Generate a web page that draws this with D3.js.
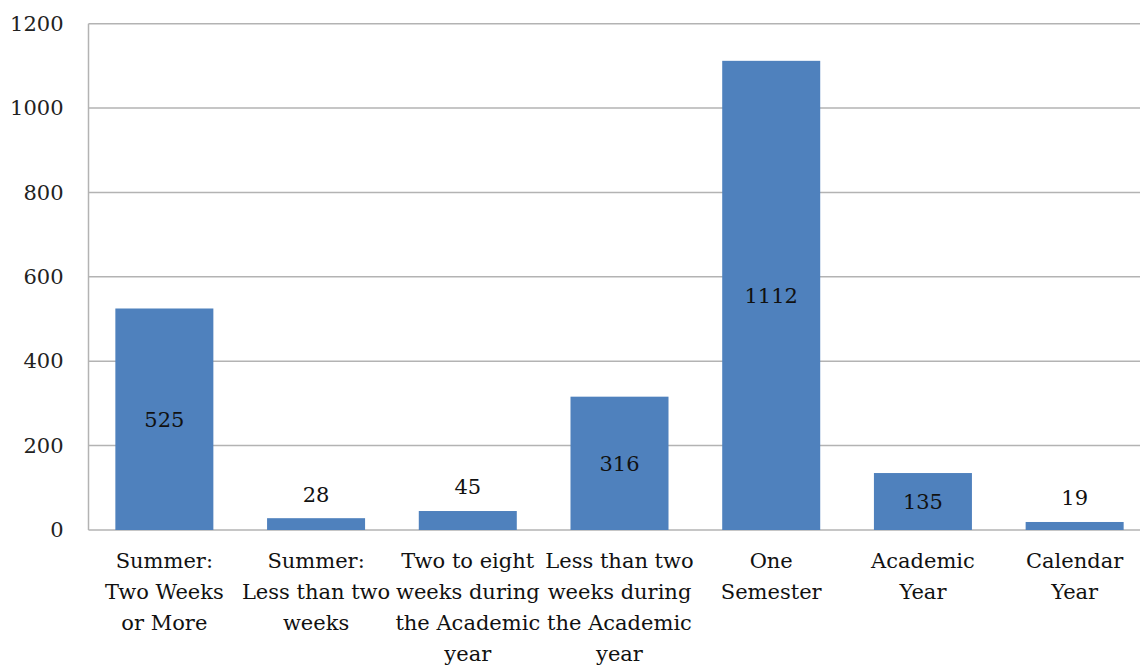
<!DOCTYPE html>
<html><head><meta charset="utf-8">
<script src="https://cdn.jsdelivr.net/npm/d3@7"></script>
<style>body{margin:0;background:#fff}</style>
</head><body>
<script>
const categories = [
  ["Summer:", "Two Weeks", "or More"],
  ["Summer:", "Less than two", "weeks"],
  ["Two to eight", "weeks during", "the Academic", "year"],
  ["Less than two", "weeks during", "the Academic", "year"],
  ["One", "Semester"],
  ["Academic", "Year"],
  ["Calendar", "Year"]
];
const values = [525, 28, 45, 316, 1112, 135, 19];
const yTicks = [0, 200, 400, 600, 800, 1000, 1200];

const W = 1140, H = 667;
const font = "'DejaVu Serif', serif";
const svg = d3.select("body").append("svg").attr("width", W).attr("height", H);

const x = d3.scaleBand().domain(d3.range(values.length)).range([88.5, 1150.5]).paddingInner(0.354).paddingOuter(0.177);
const y = d3.scaleLinear().domain([0, 1200]).range([530, 23.7]);

// gridlines
svg.append("g").selectAll("line").data(yTicks).join("line")
  .attr("x1", 88.5).attr("x2", W)
  .attr("y1", d => y(d)).attr("y2", d => y(d))
  .attr("stroke", "#b3b3b3").attr("stroke-width", 1.5);

// y axis line
svg.append("line").attr("x1", 88.5).attr("x2", 88.5).attr("y1", y(1200)).attr("y2", y(0))
  .attr("stroke", "#b3b3b3").attr("stroke-width", 1.5);

// y tick labels
const yAxis = d3.axisLeft(y).tickValues(yTicks).tickFormat(d3.format("d")).tickSize(0).tickPadding(25);
const ga = svg.append("g").attr("transform", "translate(88.5,0)").call(yAxis);
ga.select(".domain").remove();
ga.selectAll("text").attr("font-family", font).attr("font-size", 21).attr("fill", "#222");

// bars
svg.append("g").selectAll("rect").data(values).join("rect")
  .attr("x", (d, i) => x(i)).attr("width", x.bandwidth())
  .attr("y", d => y(d)).attr("height", d => y(0) - y(d))
  .attr("fill", "#4f81bd");

// value labels
svg.append("g").selectAll("text").data(values).join("text")
  .attr("x", (d, i) => x(i) + x.bandwidth() / 2)
  .attr("y", d => (y(0) - y(d) > 50) ? (y(d) + y(0)) / 2 : y(d) - 24)
  .attr("dy", "0.35em")
  .attr("text-anchor", "middle")
  .attr("font-family", font).attr("font-size", 21).attr("fill", "#111")
  .text(d => d);

// category labels
const cg = svg.append("g").selectAll("text").data(categories).join("text")
  .attr("text-anchor", "middle")
  .attr("font-family", font).attr("font-size", 21).attr("fill", "#111");
cg.each(function(lines, i) {
  d3.select(this).selectAll("tspan").data(lines).join("tspan")
    .attr("x", x(i) + x.bandwidth() / 2)
    .attr("y", (d, j) => 561 + j * 31)
    .attr("dy", "0.35em")
    .text(d => d);
});
</script>
</body></html>
